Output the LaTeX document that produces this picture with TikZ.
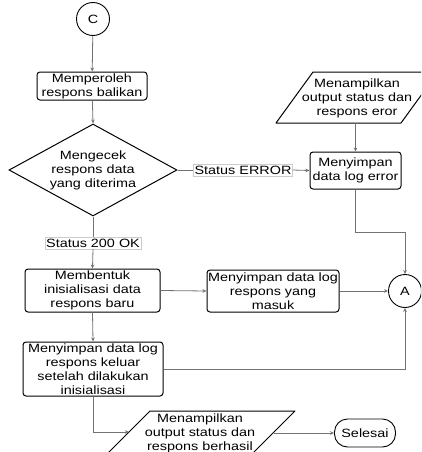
\documentclass[tikz,border=0pt]{standalone}
\usepackage{fontspec}
\setmainfont[FakeStretch=1.2]{Liberation Sans}
\usetikzlibrary{shapes.geometric,arrows.meta}
\begin{document}
\begin{tikzpicture}[x=1pt,y=-1pt,
  every node/.style={font=\fontsize{12}{14}\selectfont, align=center, inner sep=0pt},
  proc/.style={draw=black, line width=1pt, rounded corners=3pt, rectangle},
  conn/.style={draw=black!55, line width=0.8pt},
  flow/.style={conn, -{Stealth[length=4pt,width=3.6pt]}},
  con/.style={draw=black, line width=0.9pt, circle, minimum size=33pt},
  tag/.style={draw=black!20, line width=0.4pt, fill=white, inner xsep=1pt, inner ysep=1.5pt},
  iobox/.style={draw=black, line width=1pt, line join=round}
]
\useasboundingbox (0,0) rectangle (421,452);
\clip (0,0) rectangle (421,452);

% connectors and decision
\node[con] (C) at (93,19) {C};
\node[proc, minimum width=110pt, minimum height=28pt] (get) at (92,86) {Memperoleh\\respons balikan};
\node[draw=black, line width=1pt, diamond, aspect=1.83, minimum width=168pt, minimum height=92pt] (chk) at (93,170) {Mengecek\\respons data\\yang diterima};

% error branch
\path[iobox] (313,72) -- (438,72) -- (401,123) -- (276,123) -- cycle;
\node (outE) at (357,98) {Menampilkan\\output status dan\\respons eror};
\coordinate (outEb) at (355.5,123);
\node[proc, minimum width=91pt, minimum height=37pt] (err) at (355.5,170.5) {Menyimpan\\data log error};
\node[tag] (lblE) at (243,170) {Status ERROR};

% success branch
\node[tag] (lblOK) at (93,243) {Status 200 OK};
\node[proc, minimum width=135pt, minimum height=43pt] (init) at (92.5,290.5) {Membentuk\\inisialisasi data\\respons baru};
\node[proc, minimum width=132pt, minimum height=42pt] (logIn) at (273,291) {Menyimpan data log\\respons yang\\masuk};
\node[con] (A) at (405,291) {A};
\node[proc, minimum width=140pt, minimum height=54pt] (logOut) at (93,369) {Menyimpan data log\\respons keluar\\setelah dilakukan\\inisialisasi};

% final output and end
\path[iobox] (150,411) -- (295,411) -- (243,463) -- (98,463) -- cycle;
\node (outB) at (200,433) {Menampilkan\\output status dan\\respons berhasil};
\coordinate (outBin) at (129,432);
\coordinate (outBout) at (274,433);
\node[draw=black, line width=0.9pt, rounded corners=13pt, minimum width=61pt, minimum height=28pt] (end) at (365,433) {Selesai};

% flow lines
\draw[flow] (C) -- (get);
\draw[flow] (get) -- (chk.north);
\draw[conn] (chk.east) -- (lblE.west);
\draw[flow] (lblE.east) -- (err.west);
\draw[flow] (outEb) -- (err.north);
\draw[flow] (err.south) -- ++(0,43) -| (A.north);
\draw[conn] (chk.south) -- (lblOK.north);
\draw[flow] (lblOK.south) -- (init.north);
\draw[flow] (init.east) -- (logIn.west);
\draw[flow] (logIn.east) -- (A.west);
\draw[flow] (init.south) -- (logOut.north);
\draw[flow] (logOut.east) -| (A.south);
\draw[flow] (logOut.south) |- (outBin);
\draw[flow] (outBout) -- (end.west);
\end{tikzpicture}
\end{document}
